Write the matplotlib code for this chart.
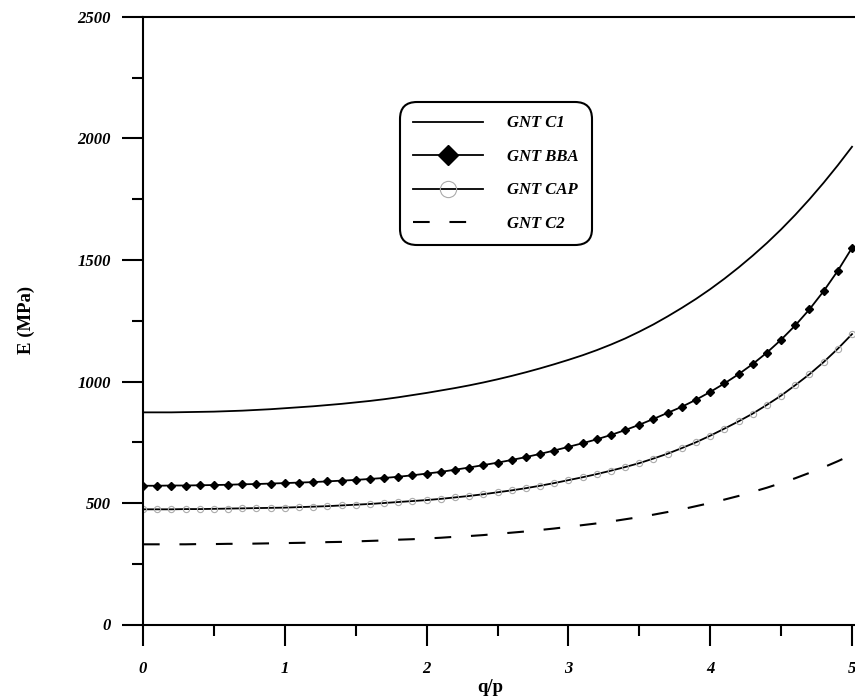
"""E vs q/p for the four GNT models, recreated from the scanned figure."""
import matplotlib
matplotlib.use("Agg")
import matplotlib.pyplot as plt
from matplotlib.font_manager import FontProperties
from matplotlib.ticker import MultipleLocator

# q/p grid (0.1 steps, one marker per step)
q_p = [round(0.1 * i, 1) for i in range(51)]

e_c1 = [873, 873, 873, 874, 875, 876, 878, 880, 883, 886,
        890, 894, 898, 903, 908, 914, 920, 927, 935, 944,
        953, 963, 973, 984, 996, 1009, 1023, 1038, 1054, 1071,
        1089, 1108, 1129, 1152, 1177, 1205, 1235, 1268, 1303, 1340,
        1380, 1423, 1469, 1518, 1570, 1626, 1686, 1750, 1818, 1890,
        1966]

e_bba = [571, 571, 572, 572, 573, 574, 575, 577, 578, 580,
         582, 584, 586, 589, 592, 595, 599, 603, 608, 614,
         621, 628, 637, 646, 656, 666, 677, 689, 702, 716,
         731, 746, 762, 780, 800, 822, 846, 871, 896, 925,
         957, 992, 1030, 1072, 1119, 1172, 1231, 1297, 1372, 1456,
         1550]

e_cap = [474, 474, 474, 475, 475, 476, 477, 478, 479, 480,
         481, 483, 485, 487, 490, 493, 496, 500, 504, 508,
         512, 517, 523, 529, 536, 544, 552, 561, 571, 582,
         594, 606, 619, 633, 648, 664, 683, 703, 726, 750,
         777, 806, 836, 868, 904, 942, 985, 1030, 1080, 1135,
         1195]

e_c2 = [330, 330, 330, 330, 331, 331, 332, 332, 333, 334,
        335, 336, 337, 339, 340, 342, 344, 346, 349, 351,
        354, 357, 361, 364, 368, 373, 378, 383, 389, 395,
        402, 409, 416, 424, 433, 442, 452, 463, 474, 487,
        500, 514, 529, 546, 563, 582, 602, 624, 647, 672,
        699]

labels = ["GNT C1", "GNT BBA", "GNT CAP", "GNT C2"]

W, H = 855, 696
fig = plt.figure(figsize=(W / 100, H / 100), dpi=100)
ax = fig.add_axes([143 / W, (H - 624.5) / H, 1 - 143 / W, (624.5 - 17) / H])

ax.plot(q_p, e_c1, color="black", lw=1.3, label=labels[0])
ax.plot(q_p, e_bba, color="black", lw=1.3, marker="D", ms=4, label=labels[1])
ax.plot(q_p, e_cap, color="black", lw=1.3, marker="o", ms=4.5, mfc="none",
        mec="#ababab", mew=0.8, label=labels[2])
ax.plot(q_p, e_c2, color="black", lw=1.5, dashes=(8, 9.5), label=labels[3])

ax.set_xlim(0, 5.021)
ax.set_ylim(0, 2500)
ax.xaxis.set_major_locator(MultipleLocator(1))
ax.xaxis.set_minor_locator(MultipleLocator(0.5))
ax.yaxis.set_major_locator(MultipleLocator(500))
ax.yaxis.set_minor_locator(MultipleLocator(250))

for side in ("left", "bottom", "top"):
    ax.spines[side].set_linewidth(1.5)
ax.spines["right"].set_visible(False)

ax.tick_params(which="major", direction="out", length=15, width=1.5)
ax.tick_params(which="minor", direction="out", length=8, width=1.5)
ax.tick_params(axis="x", which="major", pad=11)
ax.tick_params(axis="y", which="major", pad=8)
ax.tick_params(right=False, top=False, which="both")

tick_font = FontProperties(family="Liberation Serif", weight="bold",
                           style="italic", size=12)
for lbl in ax.get_xticklabels() + ax.get_yticklabels():
    lbl.set_fontproperties(tick_font)

label_font = FontProperties(family="Liberation Serif", weight="bold", size=13.5)
fig.text(26 / W, 1 - 320 / H, "E (MPa)", rotation=90, ha="center",
         va="center", fontproperties=label_font)
fig.text(490 / W, 1 - 688 / H, "q/p", ha="center", va="center",
         fontproperties=label_font)

leg = ax.legend(loc="upper left", bbox_to_anchor=(400 / W, 1 - 102 / H),
                bbox_transform=fig.transFigure, frameon=True, fancybox=True,
                edgecolor="black", framealpha=1,
                prop=FontProperties(family="Liberation Serif", weight="bold",
                                    style="italic", size=12),
                handlelength=4.2, handletextpad=1.4, labelspacing=1.05,
                borderpad=0.8, markerscale=2.6, borderaxespad=0)
leg.get_frame().set_linewidth(1.5)
leg.get_frame().set_boxstyle("round", pad=0, rounding_size=1.0)

fig.savefig("out.png", dpi=100)
